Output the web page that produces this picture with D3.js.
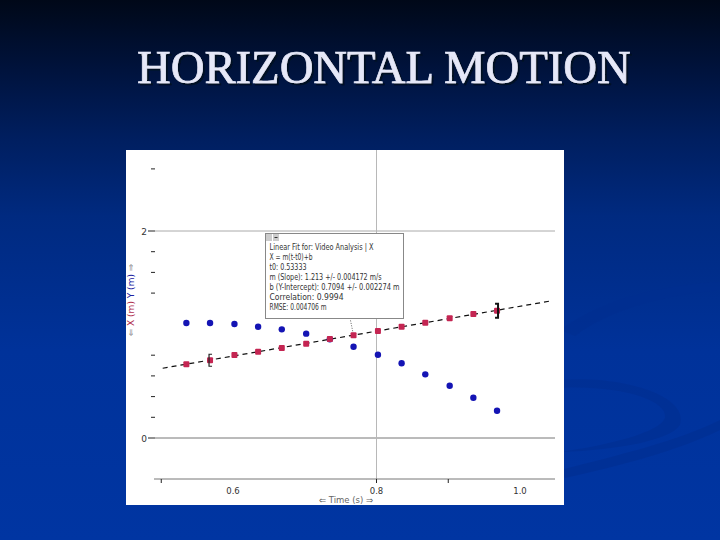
<!DOCTYPE html>
<html><head><meta charset="utf-8">
<script src="https://cdn.jsdelivr.net/npm/d3@7"></script>
<style>body{margin:0;padding:0;background:#000}svg{display:block}</style>
</head><body>
<svg id="c" width="720" height="540"></svg>
<script>
// ---- data ----
const times   = [0.535,0.568,0.602,0.635,0.668,0.702,0.735,0.768,0.802,0.835,0.868,0.902,0.935,0.968];
const yValues = [1.111,1.111,1.101,1.075,1.050,1.008,0.954,0.882,0.805,0.722,0.615,0.505,0.389,0.264];
const xValues = [0.712,0.751,0.802,0.834,0.870,0.911,0.957,0.992,1.034,1.075,1.114,1.157,1.198,1.230];
const yMajorTicks = [0, 2];
const yMinorTicks = [0.2,0.4,0.6,0.8,1.4,1.6,1.8,2.6];
const xLabelTicks = [0.6, 0.8, 1.0];
const xMinorTicks = [0.5, 0.8, 0.9];
const xGrid = [0.8];
const fitRange = [0.502, 1.044];
const fitText = [
  "Linear Fit for: Video Analysis | X",
  "X = m(t-t0)+b",
  "t0: 0.53333",
  "m (Slope): 1.213 +/- 0.004172 m/s",
  "b (Y-Intercept): 0.7094 +/- 0.002274 m",
  "Correlation: 0.9994",
  "RMSE: 0.004706 m"
];
const title = "HORIZONTAL MOTION";

const svg = d3.select("#c");
const defs = svg.append("defs");
const g = defs.append("linearGradient").attr("id","bg").attr("x1",0).attr("y1",0).attr("x2",0).attr("y2",1);
[[0,"#000818"],[0.12,"#00123a"],[0.25,"#001e5e"],[0.4,"#002a80"],[0.65,"#00329a"],[1,"#0035a2"]]
  .forEach(s=>g.append("stop").attr("offset",s[0]).attr("stop-color",s[1]));
const f = defs.append("filter").attr("id","sh").attr("x","-5%").attr("y","-20%").attr("width","115%").attr("height","150%");
f.append("feDropShadow").attr("dx",2).attr("dy",2).attr("stdDeviation",0.6)
  .attr("flood-color","#000820").attr("flood-opacity",0.85);
svg.append("rect").attr("width",720).attr("height",540).attr("fill","url(#bg)");

// faint decorative swooshes
const sw = svg.append("g").attr("fill","#002e90").attr("opacity",0.55);
sw.append("path").attr("d","M560,330 C600,300 660,285 720,282 L720,290 C660,296 610,310 575,336 Z");
sw.append("path").attr("d","M560,380 C620,375 690,395 680,425 C670,440 620,450 560,452 C610,445 660,432 665,418 C668,400 620,385 560,388 Z");
sw.append("path").attr("d","M560,470 C620,455 680,440 720,420 L720,430 C680,450 620,466 565,478 Z");

// title
svg.append("text").attr("x",137).attr("y",83).attr("font-family","Liberation Serif, Times New Roman, serif")
  .attr("font-size",46.7).attr("fill","#e6e8f8").attr("stroke","#e6e8f8").attr("stroke-width",0.7)
  .attr("filter","url(#sh)").text(title);

// chart panel
svg.append("rect").attr("x",126).attr("y",150).attr("width",438).attr("height",355).attr("fill","#ffffff");

const x = d3.scaleLinear().domain([0.6,1.0]).range([233,520]);
const y = d3.scaleLinear().domain([0,2]).range([438,231]);
const font = "DejaVu Sans, sans-serif";

// grid lines
svg.selectAll(".hg").data(yMajorTicks).join("line")
  .attr("x1",155).attr("x2",555).attr("y1",d=>y(d)).attr("y2",d=>y(d))
  .attr("stroke",d=>d===0?"#777":"#aaa").attr("stroke-width",1);
svg.selectAll(".vg").data(xGrid).join("line")
  .attr("x1",d=>x(d)).attr("x2",d=>x(d)).attr("y1",150).attr("y2",483)
  .attr("stroke","#b8b8b8").attr("stroke-width",1);

// y axis ticks
svg.selectAll(".ymt").data(yMajorTicks).join("line")
  .attr("x1",148).attr("x2",155).attr("y1",d=>y(d)).attr("y2",d=>y(d)).attr("stroke","#222");
svg.selectAll(".ymnt").data(yMinorTicks).join("line")
  .attr("x1",151).attr("x2",155).attr("y1",d=>y(d)).attr("y2",d=>y(d)).attr("stroke","#222");
svg.selectAll(".yl").data(yMajorTicks).join("text")
  .attr("x",147).attr("y",d=>y(d)+3.5).attr("text-anchor","end")
  .attr("font-family",font).attr("font-size",9).attr("fill","#333").text(d=>d3.format("d")(d));

// x axis
svg.append("line").attr("x1",154).attr("x2",555).attr("y1",479).attr("y2",479).attr("stroke","#777");
svg.selectAll(".xt").data(xMinorTicks).join("line")
  .attr("x1",d=>x(d)).attr("x2",d=>x(d)).attr("y1",479).attr("y2",483).attr("stroke","#222");
svg.selectAll(".xl").data(xLabelTicks).join("text")
  .attr("x",d=>x(d)).attr("y",494).attr("text-anchor","middle")
  .attr("font-family",font).attr("font-size",8.5).attr("fill","#333").text(d=>d3.format(".1f")(d));
svg.append("text").attr("x",346).attr("y",503).attr("text-anchor","middle")
  .attr("font-family",font).attr("font-size",8.5).attr("fill","#666")
  .text("\u21D0   Time (s)   \u21D2");

// y axis title (rotated)
const yt = svg.append("text").attr("transform","translate(134,300) rotate(-90)")
  .attr("text-anchor","middle").attr("font-family",font).attr("font-size",9);
yt.append("tspan").attr("fill","#888").text("\u21D0 ");
yt.append("tspan").attr("fill","#b03050").text("X (m) ");
yt.append("tspan").attr("fill","#2020a0").text("Y (m)");
yt.append("tspan").attr("fill","#888").text(" \u21D2");

// linear fit computed from X data
const mt = d3.mean(times), mx = d3.mean(xValues);
const slope = d3.sum(times.map((t,i)=>(t-mt)*(xValues[i]-mx))) / d3.sum(times.map(t=>(t-mt)*(t-mt)));
const icpt = mx - slope*mt;
svg.append("line")
  .attr("x1",x(fitRange[0])).attr("y1",y(icpt+slope*fitRange[0]))
  .attr("x2",x(fitRange[1])).attr("y2",y(icpt+slope*fitRange[1]))
  .attr("stroke","#111").attr("stroke-width",1.2).attr("stroke-dasharray","5,4");

// pointer from box to point
svg.append("line").attr("x1",350).attr("y1",318).attr("x2",x(times[7])).attr("y2",y(xValues[7]))
  .attr("stroke","#333").attr("stroke-width",0.8).attr("stroke-dasharray","1,1.5");

// Y series (blue)
svg.selectAll(".yp").data(times).join("circle")
  .attr("cx",d=>x(d)).attr("cy",(d,i)=>y(yValues[i])).attr("r",3.2).attr("fill","#1414b4");
// X series (red)
svg.selectAll(".xp").data(times).join("rect")
  .attr("x",d=>x(d)-3).attr("y",(d,i)=>y(xValues[i])-3).attr("width",6).attr("height",6)
  .attr("rx",1).attr("fill","#c42552");

// fit range brackets
const bl = [x(times[1]), y(xValues[1])];
svg.append("path").attr("d",`M${bl[0]+2},${bl[1]-6} h-3 v12 h3`).attr("fill","none").attr("stroke","#222").attr("stroke-width",1.2);
const br = [x(times[13]), y(xValues[13])];
svg.append("path").attr("d",`M${br[0]-2},${br[1]-7} h3 v14 h-3`).attr("fill","none").attr("stroke","#111").attr("stroke-width",2);

// fit info box
svg.append("rect").attr("x",265.5).attr("y",233.5).attr("width",138).attr("height",85)
  .attr("fill","#fff").attr("stroke","#888").attr("stroke-width",1);
svg.append("rect").attr("x",266).attr("y",234).attr("width",6).attr("height",7).attr("fill","#ccc");
svg.append("rect").attr("x",273).attr("y",234).attr("width",6).attr("height",7).attr("fill","#ccc");
svg.append("line").attr("x1",274.5).attr("x2",277.5).attr("y1",237.5).attr("y2",237.5).attr("stroke","#333");
const widths = [104,43,37,112,130,74,57];
svg.selectAll(".ft").data(fitText).join("text")
  .attr("x",269.5).attr("y",(d,i)=>249.5+i*10)
  .attr("font-family",font).attr("font-size",8).attr("fill","#333")
  .attr("textLength",(d,i)=>widths[i]).attr("lengthAdjust","spacingAndGlyphs")
  .text(d=>d);
</script>
</body></html>
